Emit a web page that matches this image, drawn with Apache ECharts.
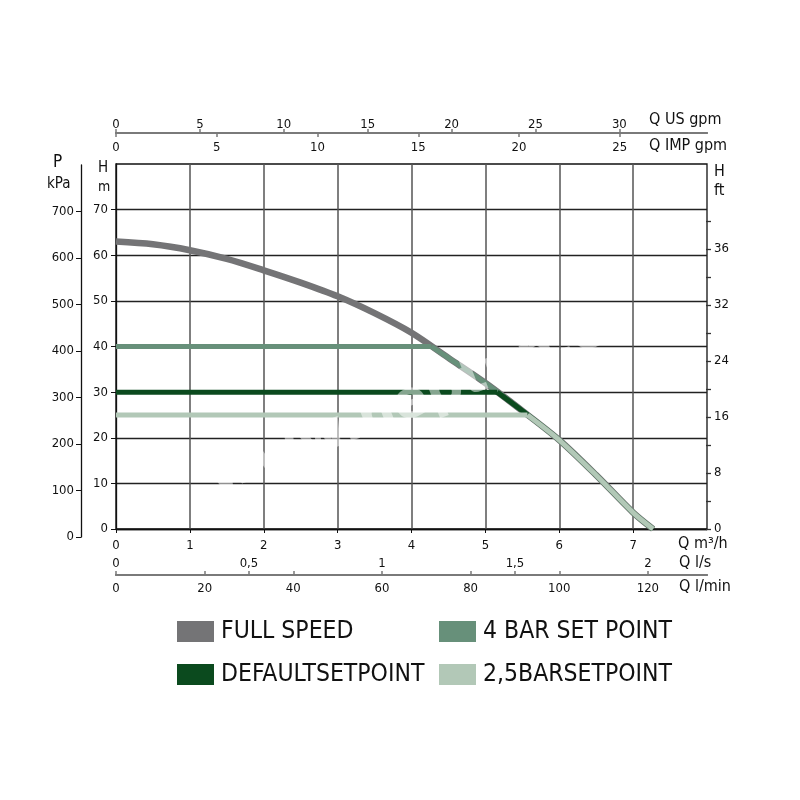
<!DOCTYPE html>
<html><head><meta charset="utf-8">
<script src="https://cdn.jsdelivr.net/npm/echarts@6/dist/echarts.min.js"></script>
<style>html,body{margin:0;background:#fff}#c{width:800px;height:800px}</style>
</head><body><div id="c"></div>
<script>
// ---- tick labels ----
const flowTicks = [0, 1, 2, 3, 4, 5, 6, 7];            // Q m3/h
const headTicks = [0, 10, 20, 30, 40, 50, 60, 70];     // H m
const kpaTicks = [0, 100, 200, 300, 400, 500, 600, 700];
const usGpmTicks = [0, 5, 10, 15, 20, 25, 30];
const impGpmTicks = [0, 5, 10, 15, 20, 25];
const lsTicks = [0, 0.5, 1, 1.5, 2];
const lminTicks = [0, 20, 40, 60, 80, 100, 120];
const ftTickPos = [0, 1, 2, 3, 4, 5, 6, 7, 8, 9, 10, 11];
const ftLabels = ['0', '8', '16', '24', '32', '36'];

// ---- series (Q m3/h, H m) ----
const fullSpeedQ = [0, 0.5, 1, 1.5, 2, 2.5, 3, 3.5, 4, 4.5, 5, 5.5, 6, 6.5, 7, 7.27];
const fullSpeedH = [63.0, 62.4, 61.1, 59.2, 56.7, 54.0, 51.0, 47.3, 43.0, 37.5, 32.0, 25.9, 19.5, 11.8, 3.6, 0];
// set point levels: flat part from Q=0 to the knee, then down the pump curve
const bar4FlatQ = [0, 4.27];
const bar4FlatH = [40, 40];
const bar4CurveQ = [4.27, 4.5, 5, 5.5, 6, 6.5, 7, 7.27];
const bar4CurveH = [40, 37.5, 32.0, 25.9, 19.5, 11.8, 3.6, 0];
const defaultFlatQ = [0, 5.16];
const defaultFlatH = [30, 30];
const defaultCurveQ = [5.16, 5.5, 6, 6.5, 7, 7.27];
const defaultCurveH = [30, 25.9, 19.5, 11.8, 3.6, 0];
const bar25FlatQ = [0, 5.57];
const bar25FlatH = [25, 25];
const bar25CurveQ = [5.57, 6, 6.5, 7, 7.27];
const bar25CurveH = [25, 19.5, 11.8, 3.6, 0];

const names = ['FULL SPEED', '4 BAR SET POINT', 'DEFAULTSETPOINT', '2,5BARSETPOINT'];
const colors = ['#747476', '#67907a', '#0b4a1e', '#b2c8b7'];

const FLOW_MAX = 8;
const FONT = '"Liberation Sans Narrow", "DejaVu Sans Condensed", "Liberation Sans", sans-serif';
const lbl = {fontFamily: FONT, fontSize: 13, color: '#111'};
const pair = (q, h) => q.map((v, i) => [v, h[i]]);
const fmtComma = v => String(v).replace('.', ',');

const chart = echarts.init(document.getElementById('c'), null, {renderer: 'canvas'});

const grayLine = {show: true, lineStyle: {color: '#7a7a7a', width: 2}};

function lineSeries(name, color, width, data, smooth) {
  return {name: name, type: 'line', xAxisIndex: 0, yAxisIndex: 0, data: data,
    smooth: smooth, showSymbol: false, clip: false,
    itemStyle: {color: color}, lineStyle: {color: color, width: width}};
}

const option = {
  backgroundColor: '#fff',
  animation: false,
  grid: [
    {left: 116, top: 164, width: 591, height: 365, show: true, borderColor: '#111', borderWidth: 1.3, backgroundColor: 'transparent'},
    {left: 81, top: 165, width: 1, height: 372, show: false},
    {left: 706, top: 221, width: 1, height: 308, show: false}
  ],
  xAxis: [
    {type: 'value', gridIndex: 0, position: 'bottom', min: 0, max: FLOW_MAX, interval: 1,
     axisLine: {show: true, lineStyle: {color: '#111', width: 1.3}},
     axisTick: {show: true, length: 4, lineStyle: {color: '#111'}, customValues: flowTicks},
     axisLabel: Object.assign({margin: 10, customValues: flowTicks}, lbl),
     splitLine: {show: true, lineStyle: {color: '#555', width: 1.5}}},
    {type: 'value', gridIndex: 0, position: 'bottom', offset: 46, min: 0, max: FLOW_MAX / 3.6, interval: 0.5,
     axisLine: grayLine,
     axisTick: {show: true, inside: true, length: 4, lineStyle: {color: '#7a7a7a', width: 1.5}, customValues: lsTicks},
     axisLabel: Object.assign({inside: true, margin: 5, customValues: lsTicks, formatter: fmtComma}, lbl),
     splitLine: {show: false}},
    {type: 'value', gridIndex: 0, position: 'bottom', offset: 46, min: 0, max: FLOW_MAX * 1000 / 60, interval: 20,
     axisLine: grayLine,
     axisTick: {show: true, inside: true, length: 4, lineStyle: {color: '#7a7a7a', width: 1.5}, customValues: lminTicks},
     axisLabel: Object.assign({margin: 7, customValues: lminTicks}, lbl),
     splitLine: {show: false}},
    {type: 'value', gridIndex: 0, position: 'top', offset: 31, min: 0, max: FLOW_MAX / 0.2271247, interval: 5,
     axisLine: grayLine,
     axisTick: {show: true, length: 4, lineStyle: {color: '#7a7a7a', width: 1.5}, customValues: usGpmTicks},
     axisLabel: Object.assign({margin: 2, customValues: usGpmTicks}, lbl),
     splitLine: {show: false}},
    {type: 'value', gridIndex: 0, position: 'top', offset: 31, min: 0, max: FLOW_MAX / 0.272765, interval: 5,
     axisLine: grayLine,
     axisTick: {show: true, inside: true, length: 4, lineStyle: {color: '#7a7a7a', width: 1.5}, customValues: impGpmTicks},
     axisLabel: Object.assign({inside: true, margin: 8, customValues: impGpmTicks}, lbl),
     splitLine: {show: false}},
    {type: 'value', gridIndex: 1, min: 0, max: 1, show: false},
    {type: 'value', gridIndex: 2, min: 0, max: 1, show: false}
  ],
  yAxis: [
    {type: 'value', gridIndex: 0, position: 'left', min: 0, max: 80, interval: 10,
     axisLine: {show: true, lineStyle: {color: '#111', width: 1.3}},
     axisTick: {show: true, length: 5, lineStyle: {color: '#111'}, customValues: headTicks},
     axisLabel: Object.assign({margin: 8, customValues: headTicks}, lbl),
     splitLine: {show: true, lineStyle: {color: '#222', width: 1.3}}},
    {type: 'value', gridIndex: 1, position: 'left', min: 0, max: 800, interval: 100,
     axisLine: {show: true, lineStyle: {color: '#111', width: 1.3}},
     axisTick: {show: true, length: 5, lineStyle: {color: '#111'}, customValues: kpaTicks},
     axisLabel: Object.assign({margin: 7, customValues: kpaTicks}, lbl),
     splitLine: {show: false}},
    {type: 'value', gridIndex: 2, position: 'right', min: 0, max: 11, interval: 1,
     axisLine: {show: false},
     axisTick: {show: true, length: 5, lineStyle: {color: '#333', width: 1.3}, customValues: ftTickPos},
     axisLabel: Object.assign({margin: 7, customValues: [0, 2, 4, 6, 8, 10],
       formatter: v => ftLabels[Math.round(v / 2)]}, lbl),
     splitLine: {show: false}}
  ],
  legend: names.map((n, i) => ({
    data: [n], icon: 'rect', itemWidth: 37, itemHeight: 21, itemGap: 0, padding: 0,
    left: i % 2 === 0 ? 177 : 439, top: i < 2 ? 619 : 662,
    selectedMode: false,
    itemStyle: {borderWidth: 0},
    textStyle: {fontFamily: FONT, fontSize: 24.5, color: '#111', padding: [0, 0, 0, 2]}
  })),
  graphic: [
    {type: 'text', left: 53, top: 154, style: {text: 'P', font: '17px ' + FONT, fill: '#111'}},
    {type: 'text', left: 47, top: 177, style: {text: 'kPa', font: '15px ' + FONT, fill: '#111'}},
    {type: 'text', left: 98, top: 161, style: {text: 'H', font: '15px ' + FONT, fill: '#111'}},
    {type: 'text', left: 98, top: 180, style: {text: 'm', font: '14px ' + FONT, fill: '#111'}},
    {type: 'text', left: 714, top: 164, style: {text: 'H', font: '16px ' + FONT, fill: '#111'}},
    {type: 'text', left: 714, top: 183, style: {text: 'ft', font: '16px ' + FONT, fill: '#111'}},
    {type: 'text', left: 649, top: 112, style: {text: 'Q US gpm', font: '16px ' + FONT, fill: '#111'}},
    {type: 'text', left: 649, top: 138, style: {text: 'Q IMP gpm', font: '16px ' + FONT, fill: '#111'}},
    {type: 'text', left: 678, top: 536, style: {text: 'Q m³/h', font: '16px ' + FONT, fill: '#111'}},
    {type: 'text', left: 679, top: 555, style: {text: 'Q l/s', font: '16px ' + FONT, fill: '#111'}},
    {type: 'text', left: 679, top: 579, style: {text: 'Q l/min', font: '16px ' + FONT, fill: '#111'}},
    {type: 'text', x: 420, y: 400, rotation: 0.37, z: 100,
     style: {text: 'www.neptun.cz', font: 'bold 52px "DejaVu Sans", sans-serif', fill: 'rgba(255,255,255,0.5)',
             align: 'center', verticalAlign: 'middle'}}
  ],
  series: [
    lineSeries(names[0], colors[0], 6.5, pair(fullSpeedQ, fullSpeedH), 0.3),
    lineSeries(names[1], colors[1], 5, pair(bar4FlatQ, bar4FlatH), false),
    lineSeries(names[1], colors[1], 5, pair(bar4CurveQ, bar4CurveH), 0.3),
    lineSeries(names[2], colors[2], 5, pair(defaultFlatQ, defaultFlatH), false),
    lineSeries(names[2], colors[2], 5, pair(defaultCurveQ, defaultCurveH), 0.3),
    lineSeries(names[3], colors[3], 5, pair(bar25FlatQ, bar25FlatH), false),
    lineSeries(names[3], colors[3], 5, pair(bar25CurveQ, bar25CurveH), 0.3)
  ]
};
chart.setOption(option);
</script>
</body></html>
